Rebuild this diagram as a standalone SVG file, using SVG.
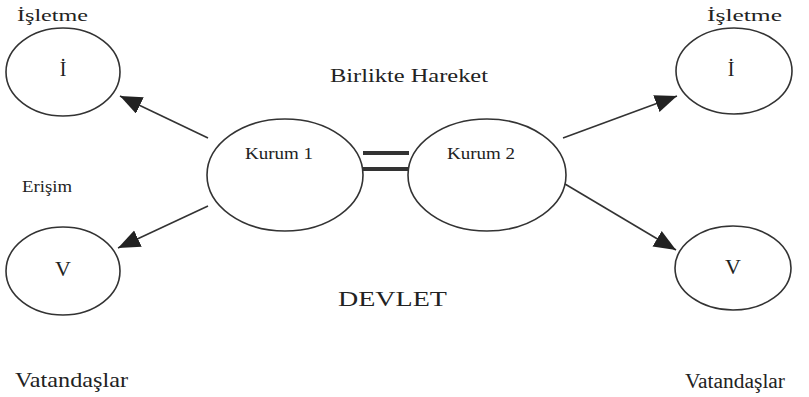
<svg xmlns="http://www.w3.org/2000/svg" width="809" height="397" viewBox="0 0 809 397">
<style>
.e{fill:none;stroke:#333;stroke-width:1.6}
.c{stroke:#333;stroke-width:1.6;fill:none}
text{font-family:"Liberation Serif",serif;fill:#222}
</style>
<defs>
<marker id="ah" markerUnits="userSpaceOnUse" markerWidth="26" markerHeight="20" refX="22" refY="9" orient="auto" viewBox="0 0 26 20">
<path d="M0,0 L22,9 L0,18 z" fill="#222"/>
</marker>
</defs>
<rect width="809" height="397" fill="#fff"/>
<g id="connectors">
<line class="c" x1="208" y1="138" x2="120" y2="96" marker-end="url(#ah)"/>
<line class="c" x1="208" y1="206" x2="118" y2="248" marker-end="url(#ah)"/>
<line class="c" x1="563" y1="138" x2="677" y2="96" marker-end="url(#ah)"/>
<line class="c" x1="565" y1="184" x2="676" y2="250" marker-end="url(#ah)"/>
<rect x="363" y="151" width="46" height="4" fill="#333"/>
<rect x="363" y="167" width="46" height="4" fill="#333"/>
</g>
<g id="isletme-left">
<ellipse class="e" cx="63" cy="72" rx="57" ry="44"/>
<text x="17" y="21" font-size="17" textLength="71" lengthAdjust="spacingAndGlyphs">İşletme</text>
<text x="63" y="76" font-size="20" text-anchor="middle">İ</text>
</g>
<g id="isletme-right">
<ellipse class="e" cx="734" cy="71" rx="58" ry="43"/>
<text x="707" y="21" font-size="17" textLength="75" lengthAdjust="spacingAndGlyphs">İşletme</text>
<text x="731" y="76" font-size="20" text-anchor="middle">İ</text>
</g>
<g id="kurum1">
<ellipse class="e" cx="285" cy="175" rx="78" ry="56"/>
<text x="245" y="159" font-size="17" textLength="68" lengthAdjust="spacingAndGlyphs">Kurum 1</text>
</g>
<g id="kurum2">
<ellipse class="e" cx="487" cy="175" rx="79" ry="56"/>
<text x="447" y="159" font-size="17" textLength="68" lengthAdjust="spacingAndGlyphs">Kurum 2</text>
</g>
<g id="vatandas-left">
<ellipse class="e" cx="63" cy="271" rx="57" ry="44"/>
<text x="63" y="276" font-size="22" text-anchor="middle">V</text>
</g>
<g id="vatandas-right">
<ellipse class="e" cx="733" cy="268" rx="58" ry="42"/>
<text x="733" y="274" font-size="22" text-anchor="middle">V</text>
</g>
<g id="labels">
<text x="330" y="82" font-size="19" textLength="158" lengthAdjust="spacingAndGlyphs">Birlikte Hareket</text>
<text x="22" y="192" font-size="17" textLength="50" lengthAdjust="spacingAndGlyphs">Erişim</text>
<text x="338" y="306" font-size="22" textLength="109" lengthAdjust="spacingAndGlyphs">DEVLET</text>
<text x="15" y="387" font-size="21" textLength="113" lengthAdjust="spacingAndGlyphs">Vatandaşlar</text>
<text x="685" y="388" font-size="20" textLength="100" lengthAdjust="spacingAndGlyphs">Vatandaşlar</text>
</g>
</svg>
